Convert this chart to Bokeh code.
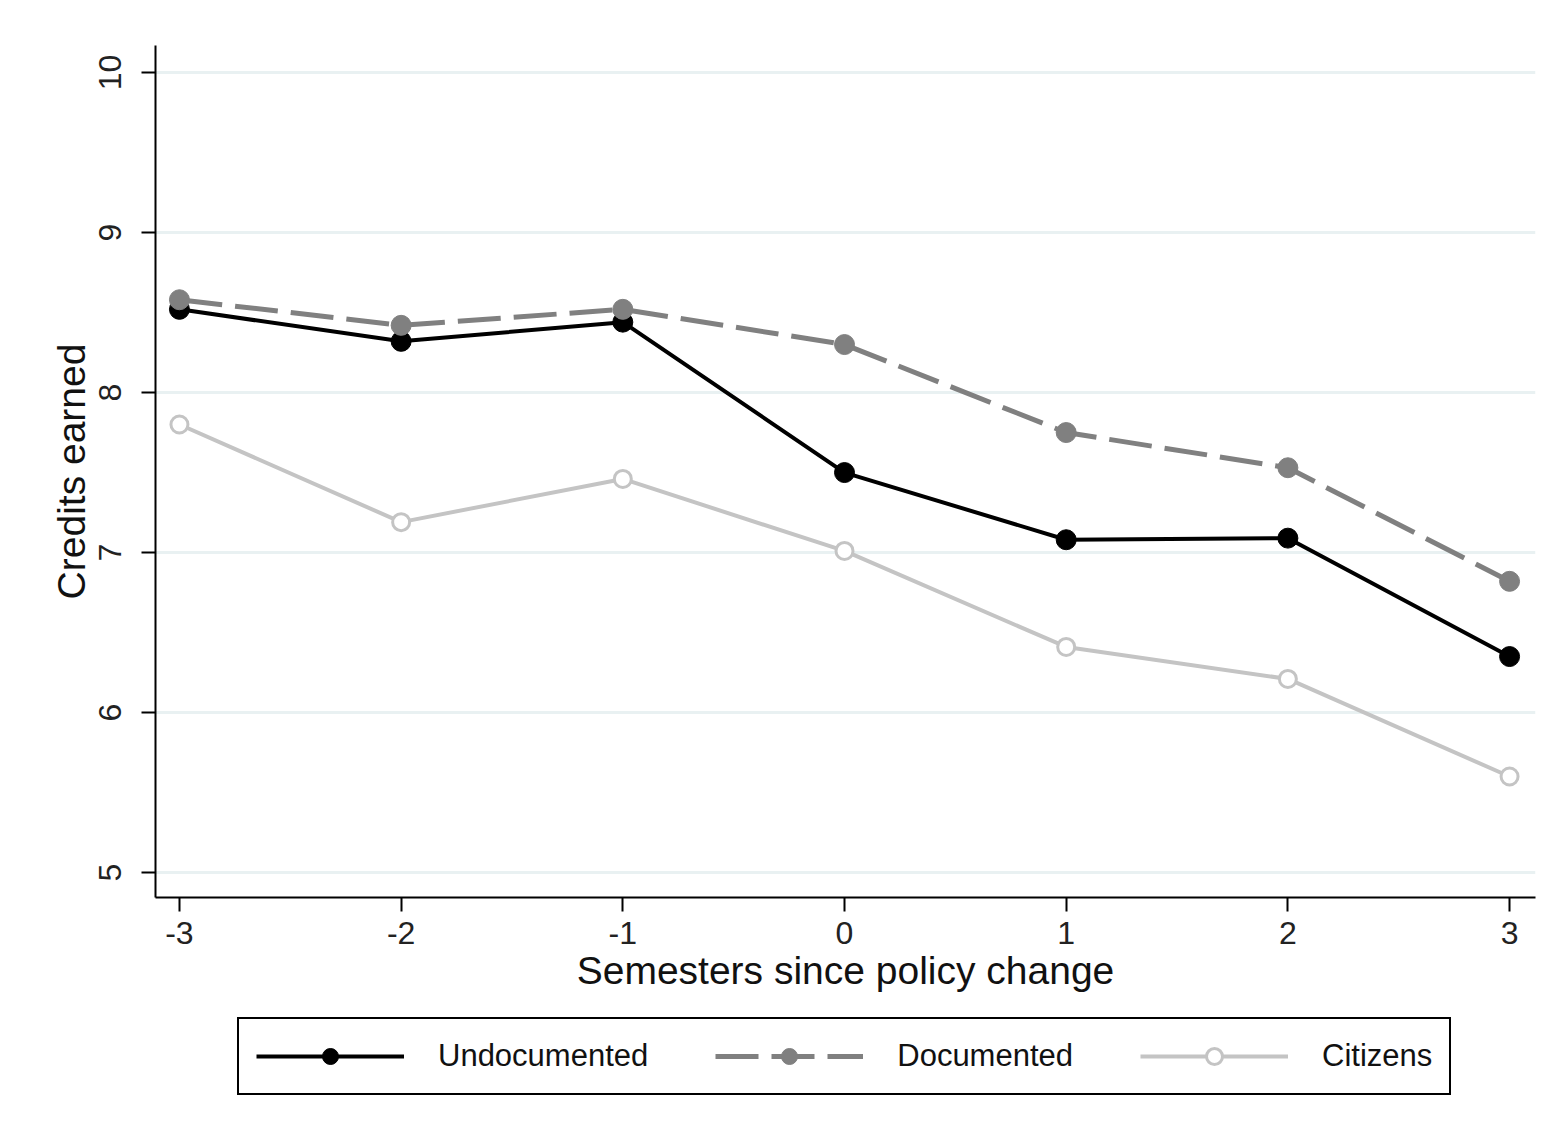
from bokeh.plotting import figure
from bokeh.models import Range1d, FixedTicker, Legend, LegendItem
from bokeh.layouts import column
from bokeh.embed import file_html
from bokeh.resources import INLINE

semesters = [-3, -2, -1, 0, 1, 2, 3]
undocumented = [8.52, 8.32, 8.44, 7.50, 7.08, 7.09, 6.35]
documented = [8.58, 8.42, 8.52, 8.30, 7.75, 7.53, 6.82]
citizens = [7.80, 7.19, 7.46, 7.01, 6.41, 6.21, 5.60]
series_names = ["Undocumented", "Documented", "Citizens"]
y_ticks = [5, 6, 7, 8, 9, 10]
x_ticks = [-3, -2, -1, 0, 1, 2, 3]

FONT = "Liberation Sans"
W = 1556
H_TOTAL = 1134
H_MAIN = 1015
H_LEG = H_TOTAL - H_MAIN

STYLES = [
    dict(line=dict(line_color="black", line_width=4),
         marker=dict(size=20, fill_color="black", line_color="black")),
    dict(line=dict(line_color="#808080", line_width=5, line_dash="43 13"),
         marker=dict(size=20, fill_color="#808080", line_color="#808080")),
    dict(line=dict(line_color="#c4c4c4", line_width=4),
         marker=dict(size=17, fill_color="white", line_color="#c4c4c4", line_width=3)),
]
SERIES = [undocumented, documented, citizens]

p = figure(width=W, height=H_MAIN, output_backend="svg", toolbar_location=None,
           x_range=Range1d(-3.108, 3.117), y_range=Range1d(4.844, 10.169),
           min_border_left=155, min_border_right=W - 1535, min_border_top=45,
           min_border_bottom=H_MAIN - 897)
p.outline_line_color = None
p.background_fill_color = "white"
p.border_fill_color = "white"

p.xgrid.grid_line_color = None
p.ygrid.grid_line_color = "#e9f1f2"
p.ygrid.grid_line_width = 3
p.ygrid.ticker = FixedTicker(ticks=y_ticks)

for ax in (p.xaxis[0], p.yaxis[0]):
    ax.axis_line_color = "black"
    ax.axis_line_width = 2
    ax.major_tick_line_color = "black"
    ax.major_tick_line_width = 2
    ax.major_tick_out = 14
    ax.major_tick_in = 0
    ax.minor_tick_line_color = None
    ax.major_label_text_font = FONT
    ax.major_label_text_font_size = "32px"
    ax.major_label_text_color = "#222222"
    ax.axis_label_text_font = FONT
    ax.axis_label_text_font_size = "39px"
    ax.axis_label_text_font_style = "normal"
    ax.axis_label_text_color = "#111111"

p.xaxis.ticker = FixedTicker(ticks=x_ticks)
p.xaxis.major_label_overrides = {t: str(t) for t in x_ticks}
p.yaxis.ticker = FixedTicker(ticks=y_ticks)
p.xaxis.axis_label = "Semesters since policy change"
p.yaxis.axis_label = "Credits earned"
p.yaxis.major_label_orientation = "vertical"
p.xaxis.major_label_standoff = 10
p.xaxis.axis_label_standoff = 2
p.yaxis.major_label_standoff = 20
p.yaxis.axis_label_standoff = 4

for vals, st in zip(SERIES, STYLES):
    p.line(semesters, vals, **st["line"])
    p.scatter(semesters, vals, **st["marker"])

# legend panel below the plot (its view range holds none of the data, so only the key shows)
q = figure(width=W, height=H_LEG, output_backend="svg", toolbar_location=None,
           x_range=Range1d(0, 1), y_range=Range1d(100, 101),
           min_border_left=0, min_border_right=0, min_border_top=0, min_border_bottom=0)
q.axis.visible = False
q.grid.visible = False
q.outline_line_color = None
q.border_fill_color = "white"
q.background_fill_color = "white"

items = []
for name, vals, st in zip(series_names, SERIES, STYLES):
    lr = q.line(semesters, vals, **st["line"])
    sr = q.scatter(semesters, vals, **st["marker"])
    items.append(LegendItem(label=name, renderers=[lr, sr]))

legend = Legend(items=items, orientation="horizontal", location=(82, 39),
    label_text_font=FONT, label_text_font_size="31px", label_text_color="#111111",
    glyph_width=148, glyph_height=40, label_height=38, label_standoff=34, spacing=67,
    padding=17, margin=0,
    border_line_color="black", border_line_width=2, border_line_alpha=1,
    background_fill_alpha=0)
q.add_layout(legend, "center")

layout = column(p, q, spacing=0)
open("out.html", "w").write(file_html(layout, INLINE))
